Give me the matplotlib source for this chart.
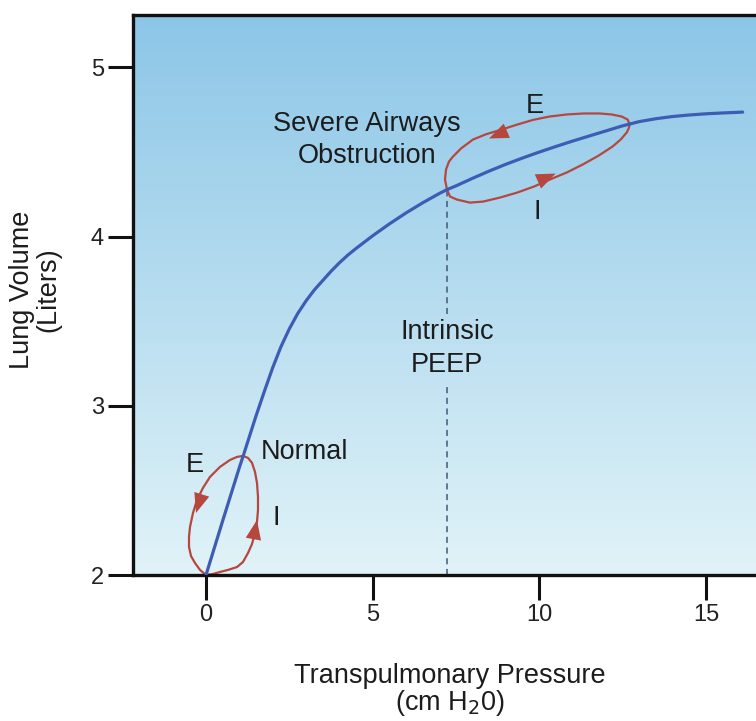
import numpy as np
import matplotlib
matplotlib.use("Agg")
import matplotlib.pyplot as plt
from matplotlib.colors import LinearSegmentedColormap
from matplotlib.patches import FancyArrowPatch

plt.rcParams['font.family'] = ['Liberation Sans', 'DejaVu Sans']

# ---- data ----
curve_x = [0, 0.5, 1.0, 1.11, 1.5, 1.75, 2.0, 2.25, 2.5, 2.75, 3.0, 3.25, 3.5, 3.75,
           4.0, 4.25, 4.5, 5.0, 5.5, 6.0, 6.5, 7.0, 7.23, 7.5, 8.0, 8.5, 9.0, 9.5,
           10.0, 10.5, 11.0, 11.5, 12.0, 12.5, 13.0, 13.5, 14.0, 14.5, 15.0, 15.5, 16.1]
curve_y = [2.0, 2.32, 2.635, 2.70, 2.94, 3.085, 3.225, 3.35, 3.455, 3.545, 3.62, 3.685,
           3.74, 3.795, 3.845, 3.89, 3.93, 4.005, 4.075, 4.14, 4.20, 4.255, 4.278,
           4.30, 4.345, 4.388, 4.428, 4.465, 4.50, 4.533, 4.565, 4.595, 4.625, 4.655,
           4.68, 4.697, 4.71, 4.719, 4.726, 4.731, 4.736]

normal_loop_x = [0, 0.21, 0.42, 0.66, 0.93, 1.11, 1.26, 1.38, 1.47, 1.53, 1.56, 1.56, 1.53,
                 1.47, 1.38, 1.26, 1.11, 0.93, 0.72, 0.42, 0.12, -0.09, -0.27, -0.39,
                 -0.48, -0.51, -0.51, -0.45, -0.33, -0.18, 0]
normal_loop_y = [2.0, 2.006, 2.018, 2.030, 2.047, 2.077, 2.130, 2.183, 2.249, 2.314, 2.385,
                 2.462, 2.544, 2.609, 2.663, 2.692, 2.704, 2.698, 2.680, 2.639, 2.580,
                 2.515, 2.444, 2.367, 2.284, 2.225, 2.166, 2.112, 2.071, 2.030, 2.0]

severe_loop_x = [7.23, 7.17, 7.20, 7.29, 7.41, 7.65, 8.01, 8.40, 8.82, 9.30, 9.81, 10.31,
                 10.82, 11.33, 11.81, 12.17, 12.47, 12.65, 12.71, 12.68, 12.62, 12.44,
                 12.20, 11.78, 11.30, 10.82, 10.31, 9.84, 9.33, 8.82, 8.31, 7.92, 7.53,
                 7.32, 7.23]
severe_loop_y = [4.278, 4.337, 4.396, 4.444, 4.473, 4.521, 4.574, 4.605, 4.630, 4.660,
                 4.690, 4.710, 4.722, 4.728, 4.728, 4.722, 4.710, 4.692, 4.663, 4.639,
                 4.615, 4.574, 4.533, 4.479, 4.426, 4.379, 4.337, 4.296, 4.260, 4.231,
                 4.207, 4.201, 4.219, 4.237, 4.278]

# arrow (tail, tip) pairs on the loops
arrows = [((-0.15, 2.462), (-0.30, 2.367)),
          ((1.44, 2.231), (1.53, 2.325)),
          ((8.97, 4.621), (8.49, 4.580)),
          ((10.01, 4.331), (10.49, 4.373))]

peep_x = 7.23
peep_top = 4.278
peep_gap = (3.12, 3.54)

x_ticks = [0, 5, 10, 15]
y_ticks = [2, 3, 4, 5]

# ---- figure ----
fig = plt.figure(figsize=(7.56, 7.21), dpi=100)
ax = fig.add_axes([133/756, 1 - 575/721, 1 - 133/756, (575 - 15)/721])
ax.set_xlim(-2.19, 16.5)
ax.set_ylim(2.0, 5.31)

cmap = LinearSegmentedColormap.from_list('bg', ['#e1f3f8', '#8cc6e7'])
grad = np.linspace(0, 1, 256).reshape(-1, 1)
ax.imshow(grad, cmap=cmap, origin='lower', aspect='auto', extent=[0, 1, 0, 1],
          transform=ax.transAxes, zorder=0)

red = '#b5473f'
ax.plot(curve_x, curve_y, color='#3c5db3', lw=2.3, zorder=3, solid_capstyle='round',
        solid_joinstyle='round')
ax.plot(normal_loop_x, normal_loop_y, color=red, lw=1.6, zorder=2, solid_joinstyle='round')
ax.plot(severe_loop_x, severe_loop_y, color=red, lw=1.6, zorder=2, solid_joinstyle='round')

for tail, tip in arrows:
    ax.add_patch(FancyArrowPatch(tail, tip, arrowstyle='-|>,head_length=1.0,head_width=0.4',
                                 mutation_scale=14, color=red, lw=0, zorder=4,
                                 shrinkA=0, shrinkB=0))

dash_kw = dict(color='#3f5a78', lw=1.1, ls=(0, (4, 3)), zorder=1)
ax.plot([peep_x, peep_x], [2.0, peep_gap[0]], **dash_kw)
ax.plot([peep_x, peep_x], [peep_gap[1], peep_top], **dash_kw)

tc = '#1c1c1c'
fs = 19.5
ax.text(1.65, 2.728, 'Normal', fontsize=fs, color=tc, ha='left', va='center')
ax.text(-0.33, 2.651, 'E', fontsize=fs, color=tc, ha='center', va='center')
ax.text(2.10, 2.337, 'I', fontsize=fs, color=tc, ha='center', va='center')
ax.text(4.83, 4.665, 'Severe Airways', fontsize=fs, color=tc, ha='center', va='center')
ax.text(4.83, 4.475, 'Obstruction', fontsize=fs, color=tc, ha='center', va='center')
ax.text(9.87, 4.77, 'E', fontsize=fs, color=tc, ha='center', va='center')
ax.text(9.93, 4.148, 'I', fontsize=fs, color=tc, ha='center', va='center')
ax.text(peep_x, 3.438, 'Intrinsic', fontsize=fs, color=tc, ha='center', va='center')
ax.text(peep_x, 3.243, 'PEEP', fontsize=fs, color=tc, ha='center', va='center')

for s in ['left', 'bottom', 'top']:
    ax.spines[s].set_linewidth(2.4)
    ax.spines[s].set_color('#111111')
ax.spines['right'].set_visible(False)

ax.set_xticks(x_ticks)
ax.set_yticks(y_ticks)
ax.tick_params(direction='out', length=18, width=2.2, colors='#111111',
               labelsize=17, labelcolor='#222222', pad=3)

fig.text(450/756, 1 - 676/721, 'Transpulmonary Pressure', fontsize=fs, color=tc,
         ha='center', va='center')
fig.text(450/756, 1 - 703/721, '(cm H$_2$0)', fontsize=fs, color=tc,
         ha='center', va='center')
fig.text(22/756, 1 - 290/721, 'Lung Volume', fontsize=fs, color=tc,
         ha='center', va='center', rotation=90)
fig.text(48/756, 1 - 290/721, '(Liters)', fontsize=fs, color=tc,
         ha='center', va='center', rotation=90)

fig.savefig('out.png', dpi=100)
